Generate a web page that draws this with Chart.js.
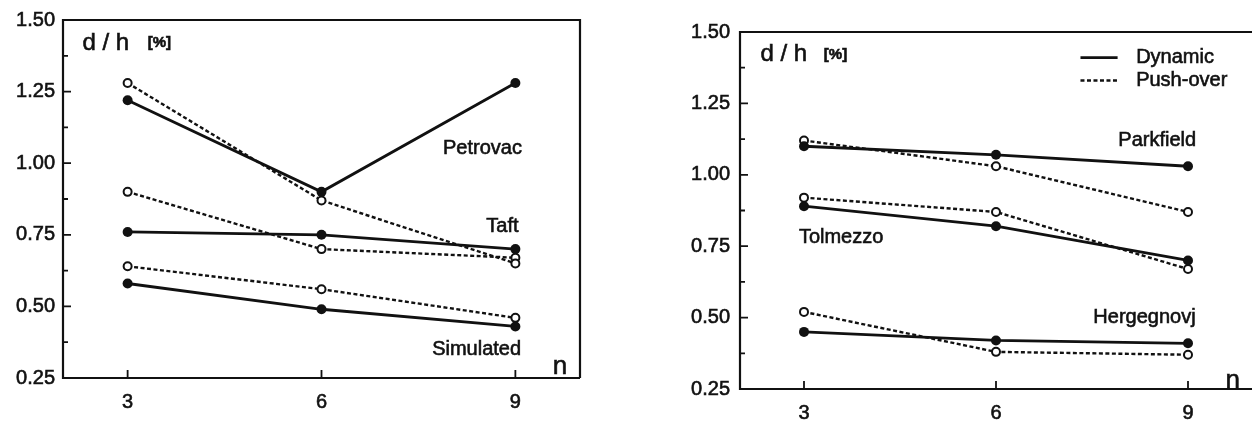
<!DOCTYPE html>
<html>
<head>
<meta charset="utf-8">
<script src="https://cdn.jsdelivr.net/npm/chart.js@4"></script>
<style>
  html, body { margin: 0; padding: 0; background: #fff; }
  body { width: 1252px; height: 425px; position: relative; overflow: hidden; }
  .wrap { position: absolute; top: 0; height: 425px; }
</style>
</head>
<body>
<div class="wrap" style="left:0;width:620px;"><canvas id="left"></canvas></div>
<div class="wrap" style="left:640px;width:612px;"><canvas id="right"></canvas></div>
<script>
// ---- data ----
const nValues = [3, 6, 9];
const xTicks = [3, 6, 9];
const yTicks = [0.25, 0.50, 0.75, 1.00, 1.25, 1.50];

const petrovacDynamic   = [1.22, 0.90, 1.28];
const petrovacPushover  = [1.28, 0.87, 0.65];
const taftDynamic       = [0.76, 0.75, 0.70];
const taftPushover      = [0.90, 0.70, 0.67];
const simulatedDynamic  = [0.58, 0.49, 0.43];
const simulatedPushover = [0.64, 0.56, 0.46];

const parkfieldDynamic   = [1.10, 1.07, 1.03];
const parkfieldPushover  = [1.12, 1.03, 0.87];
const tolmezzoDynamic    = [0.89, 0.82, 0.70];
const tolmezzoPushover   = [0.92, 0.87, 0.67];
const hergegnovjDynamic  = [0.45, 0.42, 0.41];
const hergegnovjPushover = [0.52, 0.38, 0.37];

const leftNames  = ['Petrovac', 'Taft', 'Simulated'];
const rightNames = ['Parkfield', 'Tolmezzo', 'Hergegnovj'];
const legendNames = ['Dynamic', 'Push-over'];

const FONT = '"Liberation Sans", Arial, Helvetica, sans-serif';
const INK = '#111';

function toPts(vals) { return nValues.map((n, i) => ({ x: n, y: vals[i] })); }

function dyn(label, vals) {
  return { label, data: toPts(vals), borderColor: INK, backgroundColor: INK, borderWidth: 2.8,
    pointRadius: 5, pointBorderWidth: 0, pointBackgroundColor: INK, tension: 0, clip: false };
}
function push(label, vals) {
  return { label, data: toPts(vals), borderColor: INK, backgroundColor: '#fff', borderWidth: 2.4,
    borderDash: [4, 2.5], pointRadius: 4, pointBorderWidth: 2, pointBorderColor: INK,
    pointBackgroundColor: '#fff', tension: 0, clip: false };
}

const framePlugin = {
  id: 'frame',
  afterDraw(chart, args, opts) {
    const ctx = chart.ctx, a = chart.chartArea;
    const xs = chart.scales.x, ys = chart.scales.y;
    ctx.save();
    ctx.strokeStyle = INK; ctx.lineWidth = 2.2; ctx.setLineDash([]);
    ctx.beginPath();
    if (opts.rightBorder) {
      ctx.moveTo(a.right, a.bottom); ctx.lineTo(a.right, a.top);
    } else {
      ctx.moveTo(a.right + 4, a.top);
    }
    ctx.lineTo(a.left, a.top); ctx.lineTo(a.left, a.bottom); ctx.lineTo(a.right + (opts.rightBorder ? 0 : 4), a.bottom);
    ctx.stroke();
    // inward ticks
    ctx.lineWidth = 1.8;
    ctx.beginPath();
    yTicks.forEach((v, i) => {
      const y = ys.getPixelForValue(v);
      ctx.moveTo(a.left, y); ctx.lineTo(a.left + 8, y);
      if (i < yTicks.length - 1) {
        const ym = ys.getPixelForValue((v + yTicks[i + 1]) / 2);
        ctx.moveTo(a.left, ym); ctx.lineTo(a.left + 5, ym);
      }
    });
    xTicks.forEach(v => {
      const x = xs.getPixelForValue(v);
      ctx.moveTo(x, a.bottom); ctx.lineTo(x, a.bottom - 8);
    });
    ctx.stroke();
    // texts
    ctx.fillStyle = INK; ctx.textBaseline = 'middle';
    ctx.strokeStyle = INK; ctx.lineWidth = 0.6;
    (opts.texts || []).forEach(t => {
      ctx.font = t.font || ('20px ' + FONT);
      ctx.textAlign = t.align || 'center';
      const px = xs.getPixelForValue(t.x), py = ys.getPixelForValue(t.y);
      ctx.fillText(t.text, px, py);
      ctx.strokeText(t.text, px, py);
    });
    // legend
    if (opts.legend) {
      const L = opts.legend;
      L.rows.forEach((r) => {
        const ds = chart.data.datasets[r.ds];
        const y = ys.getPixelForValue(r.y);
        ctx.strokeStyle = INK; ctx.lineWidth = ds.borderWidth;
        ctx.setLineDash(ds.borderDash || []);
        ctx.beginPath();
        ctx.moveTo(xs.getPixelForValue(L.x0), y); ctx.lineTo(xs.getPixelForValue(L.x1), y);
        ctx.stroke();
        ctx.setLineDash([]);
        ctx.font = '20px ' + FONT; ctx.textAlign = 'left'; ctx.lineWidth = 0.6;
        const tx = xs.getPixelForValue(L.xt);
        ctx.fillText(r.text, tx, y);
        ctx.strokeText(r.text, tx, y);
      });
    }
    ctx.restore();
  }
};

function makeChart(id, w, datasets, geo, frameOpts) {
  const cv = document.getElementById(id);
  cv.width = w; cv.height = 425;
  cv.style.width = w + 'px'; cv.style.height = '425px';
  return new Chart(cv, {
    type: 'line',
    data: { datasets },
    options: {
      responsive: false, animation: false, devicePixelRatio: 1,
      layout: { autoPadding: false, padding: { top: geo.top, right: geo.right, left: 0, bottom: 0 } },
      plugins: { legend: { display: false }, tooltip: { enabled: false }, frame: frameOpts },
      scales: {
        x: {
          type: 'linear', min: 2, max: 10,
          afterBuildTicks: s => { s.ticks = xTicks.map(v => ({ value: v })); },
          afterFit: s => { s.height = geo.xh; s.paddingLeft = 0; s.paddingRight = 0; },
          grid: { display: false, drawTicks: false }, border: { display: false },
          ticks: { color: INK, font: { family: FONT, size: 20 }, padding: geo.xpad,
            textStrokeColor: INK, textStrokeWidth: 0.6, callback: v => String(v) }
        },
        y: {
          type: 'linear', min: 0.25, max: 1.5,
          afterBuildTicks: s => { s.ticks = yTicks.map(v => ({ value: v })); },
          afterFit: s => { s.width = geo.yw; },
          grid: { display: false, drawTicks: false }, border: { display: false },
          ticks: { color: INK, font: { family: FONT, size: 20 }, padding: geo.ypad,
            textStrokeColor: INK, textStrokeWidth: 0.6, callback: v => Number(v).toFixed(2) }
        }
      }
    },
    plugins: [framePlugin]
  });
}

makeChart('left', 620, [
  dyn(leftNames[0] + ' dynamic', petrovacDynamic),
  push(leftNames[0] + ' push-over', petrovacPushover),
  dyn(leftNames[1] + ' dynamic', taftDynamic),
  push(leftNames[1] + ' push-over', taftPushover),
  dyn(leftNames[2] + ' dynamic', simulatedDynamic),
  push(leftNames[2] + ' push-over', simulatedPushover)
], { top: 20, right: 40, xh: 47, yw: 63, xpad: 12, ypad: 8 }, {
  rightBorder: true,
  texts: [
    { text: 'd / h', x: 2.30, y: 1.42, align: 'left', font: '24px ' + FONT },
    { text: '[%]', x: 3.31, y: 1.42, align: 'left', font: 'bold 15px ' + FONT },
    { text: leftNames[0], x: 8.49, y: 1.05 },
    { text: leftNames[1], x: 8.80, y: 0.78 },
    { text: leftNames[2], x: 8.40, y: 0.35 },
    { text: 'n', x: 9.69, y: 0.29, font: '26px ' + FONT }
  ]
});

makeChart('right', 612, [
  dyn(rightNames[0] + ' dynamic', parkfieldDynamic),
  push(rightNames[0] + ' push-over', parkfieldPushover),
  dyn(rightNames[1] + ' dynamic', tolmezzoDynamic),
  push(rightNames[1] + ' push-over', tolmezzoPushover),
  dyn(rightNames[2] + ' dynamic', hergegnovjDynamic),
  push(rightNames[2] + ' push-over', hergegnovjPushover)
], { top: 32, right: 0, xh: 36, yw: 100, xpad: 12, ypad: 10 }, {
  rightBorder: false,
  texts: [
    { text: 'd / h', x: 2.32, y: 1.42, align: 'left', font: '24px ' + FONT },
    { text: '[%]', x: 3.31, y: 1.42, align: 'left', font: 'bold 15px ' + FONT },
    { text: rightNames[0], x: 8.52, y: 1.12 },
    { text: rightNames[1], x: 3.58, y: 0.78 },
    { text: rightNames[2], x: 8.32, y: 0.50 },
    { text: 'n', x: 9.70, y: 0.28, font: '26px ' + FONT }
  ],
  legend: { x0: 7.32, x1: 7.90, xt: 8.19, rows: [
    { ds: 0, y: 1.41, text: legendNames[0] },
    { ds: 1, y: 1.33, text: legendNames[1] }
  ] }
});
</script>
</body>
</html>
